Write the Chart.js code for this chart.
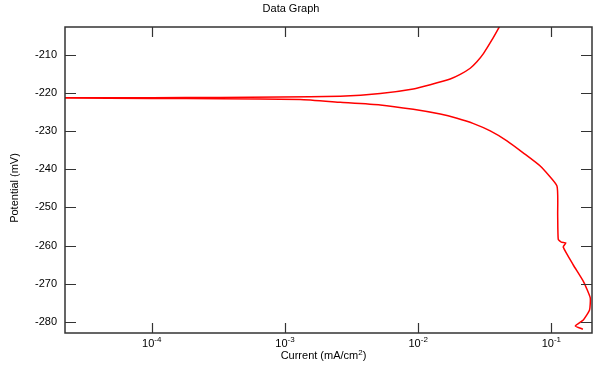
<!DOCTYPE html>
<html>
<head>
<meta charset="utf-8">
<script src="https://cdn.jsdelivr.net/npm/chart.js@4/dist/chart.umd.min.js"></script>
<style>
  html, body { margin: 0; padding: 0; background: #fff; }
  #wrap { width: 600px; height: 365px; position: relative; }
</style>
</head>
<body>
<div id="wrap"><canvas id="c" width="600" height="365"></canvas></div>
<script>
// Current density (mA/cm^2) in scan order (cathodic end -> anodic end)
const current = [
  0.1726, 0.1513, 0.1738, 0.1936, 0.196, 0.1747, 0.1462, 0.1228, 0.1284, 0.1188, 0.1127,
  0.1116, 0.1102, 0.0825, 0.0618, 0.04642, 0.03478, 0.02606, 0.01956, 0.01465, 0.00919,
  0.00519, 0.0026, 0.0013, 0.000327, 0.0001, 0.0000225, 0.000001,
  0.0000225, 0.0001, 0.000327, 0.00092, 0.0026, 0.00519, 0.00919, 0.01233, 0.0174,
  0.0207, 0.0246, 0.0276, 0.031, 0.0358, 0.0408
];
// Potential (mV)
const potential = [
  -281.9, -281.1, -279.5, -276.9, -273.7, -269.5, -265.1, -260.4, -259.3, -259.1, -258.4,
  -252.0, -244.4, -239.2, -235.8, -232.6, -230.0, -228.1, -226.7, -225.6, -224.35,
  -223.2, -222.5, -221.8, -221.6, -221.5, -221.4, -221.35,
  -221.3, -221.3, -221.25, -221.15, -220.9, -220.2, -219.0, -217.9, -216.4,
  -215.2, -213.6, -211.9, -209.7, -206.2, -202.7
];
const xTicks = [1e-4, 1e-3, 1e-2, 1e-1];
const xTickExp = ['-4', '-3', '-2', '-1'];
const yTicks = [-210, -220, -230, -240, -250, -260, -270, -280];
const title = 'Data Graph';
const yTitle = 'Potential (mV)';

const FONT = '"Liberation Sans", Arial, sans-serif';

const points = current.map((c, i) => ({ x: c, y: potential[i] }));

const decor = {
  id: 'decor',
  afterDraw(chart) {
    const ctx = chart.ctx;
    const a = chart.chartArea;
    const xs = chart.scales.x, ys = chart.scales.y;
    ctx.save();
    // frame
    ctx.strokeStyle = '#333';
    ctx.lineWidth = 1.5;
    ctx.strokeRect(a.left, a.top, a.right - a.left, a.bottom - a.top);
    // ticks
    ctx.lineWidth = 1.2;
    ctx.beginPath();
    yTicks.forEach(v => {
      const p = Math.round(ys.getPixelForValue(v)) + 0.5;
      ctx.moveTo(a.left, p); ctx.lineTo(a.left + 11, p);
      ctx.moveTo(a.right, p); ctx.lineTo(a.right - 11, p);
    });
    xTicks.forEach(v => {
      const p = Math.round(xs.getPixelForValue(v)) + 0.5;
      ctx.moveTo(p, a.bottom); ctx.lineTo(p, a.bottom - 10);
      ctx.moveTo(p, a.top); ctx.lineTo(p, a.top + 10);
    });
    ctx.stroke();
    // y tick labels
    ctx.fillStyle = '#000';
    ctx.font = '11px ' + FONT;
    ctx.textAlign = 'right';
    ctx.textBaseline = 'middle';
    yTicks.forEach(v => {
      ctx.fillText(String(v), a.left - 8, ys.getPixelForValue(v));
    });
    // x tick labels with superscript exponents
    xTicks.forEach((v, i) => {
      const p = xs.getPixelForValue(v);
      ctx.font = '11px ' + FONT;
      const w1 = ctx.measureText('10').width;
      ctx.font = '8px ' + FONT;
      const w2 = ctx.measureText(xTickExp[i]).width;
      const x0 = p - (w1 + w2) / 2;
      ctx.textAlign = 'left';
      ctx.textBaseline = 'alphabetic';
      ctx.font = '11px ' + FONT;
      ctx.fillText('10', x0, a.bottom + 14);
      ctx.font = '8px ' + FONT;
      ctx.fillText(xTickExp[i], x0 + w1, a.bottom + 9);
    });
    // x axis title with superscript 2
    ctx.font = '11px ' + FONT;
    const t1 = 'Current (mA/cm', t3 = ')';
    const wa = ctx.measureText(t1).width, wc = ctx.measureText(t3).width;
    ctx.font = '8px ' + FONT;
    const wb = ctx.measureText('2').width;
    const cx = (a.left + a.right) / 2 - 5;
    let sx = cx - (wa + wb + wc) / 2;
    ctx.font = '11px ' + FONT;
    ctx.fillText(t1, sx, a.bottom + 26);
    ctx.font = '8px ' + FONT;
    ctx.fillText('2', sx + wa, a.bottom + 22);
    ctx.font = '11px ' + FONT;
    ctx.fillText(t3, sx + wa + wb, a.bottom + 26);
    // title
    ctx.textAlign = 'center';
    ctx.textBaseline = 'middle';
    ctx.font = '11px ' + FONT;
    ctx.fillText(title, 291, 9);
    // y title
    ctx.translate(15, 188);
    ctx.rotate(-Math.PI / 2);
    ctx.fillText(yTitle, 0, 0);
    ctx.restore();
  }
};

new Chart(document.getElementById('c'), {
  type: 'scatter',
  data: {
    datasets: [{
      data: points,
      showLine: true,
      borderColor: '#ff0000',
      backgroundColor: '#ff0000',
      borderWidth: 1.5,
      pointRadius: 0,
      tension: 0.15
    }]
  },
  options: {
    responsive: false,
    animation: false,
    devicePixelRatio: 1,
    layout: { padding: { left: 65, top: 27, right: 8, bottom: 32 } },
    plugins: { legend: { display: false }, tooltip: { enabled: false }, title: { display: false } },
    scales: {
      x: { type: 'logarithmic', min: 2.23e-5, max: 0.202, display: false },
      y: { type: 'linear', min: -282.9, max: -202.8, display: false }
    }
  },
  plugins: [decor]
});
</script>
</body>
</html>
